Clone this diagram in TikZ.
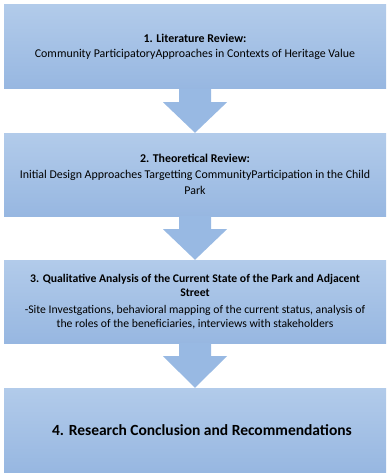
\documentclass[tikz,border=0pt]{standalone}
\usepackage{fontspec}
\setmainfont{Carlito}
\usetikzlibrary{calc}
\definecolor{boxtop}{RGB}{178,203,234}
\definecolor{boxbot}{RGB}{151,183,225}
\definecolor{arrowc}{RGB}{152,185,227}
\tikzset{
  stagebox/.style={rectangle, minimum width=382pt, inner sep=0pt, top color=boxtop, bottom color=boxbot, draw=none, align=center, text=black},
  downarrow/.style={fill=arrowc, draw=none}
}
\begin{document}
\begin{tikzpicture}[x=1pt,y=-1pt]
\useasboundingbox (0,0) rectangle (390,476);
\node[stagebox, minimum height=84pt, font=\fontsize{11.9}{15}\selectfont] (b1) at (195,47)
  {\textbf{1. Literature Review:}\\Community ParticipatoryApproaches in Contexts of Heritage Value};
\node[stagebox, minimum height=83pt, font=\fontsize{11.9}{16}\selectfont] (b2) at (195,174.5)
  {\textbf{2. Theoretical Review:}\\Initial Design Approaches Targetting CommunityParticipation in the Child\\Park};
\node[stagebox, minimum height=83pt, font=\fontsize{11.7}{14}\selectfont] (b3) at (195,301.5)
  {\textbf{3. Qualitative Analysis of the Current State of the Park and Adjacent}\\\textbf{Street}\\[3pt]
   -Site Investgations, behavioral mapping of the current status, analysis of\\the roles of the beneficiaries, interviews with stakeholders};
\node[stagebox, minimum height=84pt, font=\fontsize{15.5}{18}\selectfont\bfseries] (b4) at (195,430)
  {\hspace*{14pt}4. Research Conclusion and Recommendations};
\foreach \a/\b in {b1/b2, b2/b3, b3/b4}{
  \fill[downarrow] ($(\a.south)+(-16,0)$) -- ($(\a.south)+(-16,13)$) -- ($(\a.south)+(-32,13)$)
    -- (\b.north) -- ($(\a.south)+(32,13)$) -- ($(\a.south)+(16,13)$) -- ($(\a.south)+(16,0)$) -- cycle;
}
\end{tikzpicture}
\end{document}
